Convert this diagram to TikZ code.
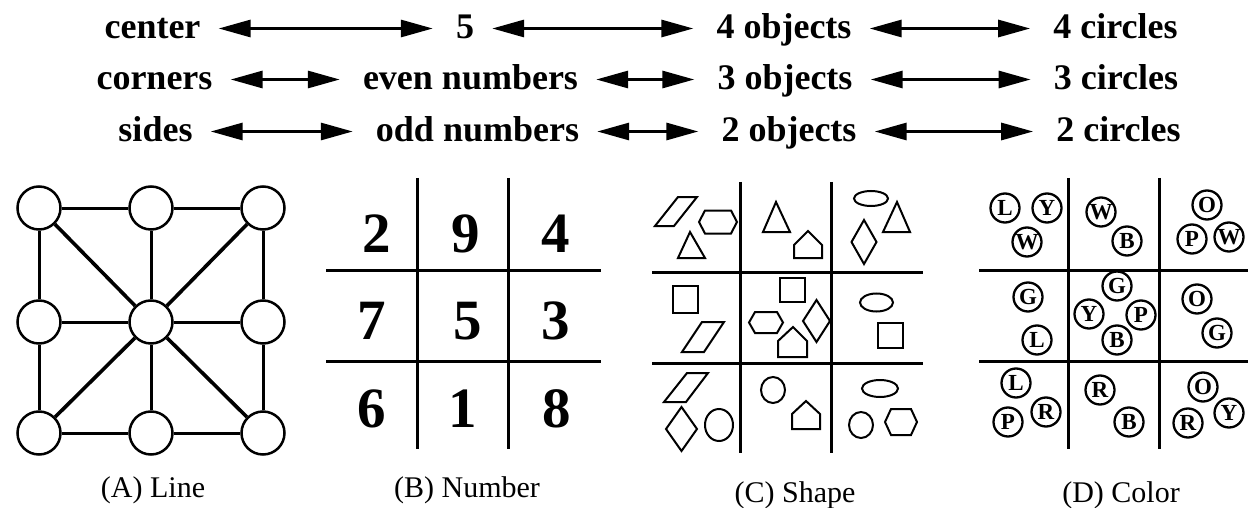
\documentclass[tikz,border=0pt]{standalone}
\usepackage{fontspec}
\setmainfont{Liberation Serif}
\usetikzlibrary{arrows.meta}

\tikzset{
  toplabel/.style={font=\bfseries\fontsize{36}{40}\selectfont,
    inner sep=0pt, text height=21pt, text depth=0pt, anchor=base},
  biarrow/.style={{Triangle[length=32pt,width=17pt]}-{Triangle[length=32pt,width=17pt]},
    line width=3pt, shorten <=18pt, shorten >=23pt},
  caption/.style={font=\fontsize{30}{34}\selectfont, inner sep=0pt, anchor=base},
  dot/.style={circle, draw, line width=2.5pt, minimum size=43pt, inner sep=0pt, fill=white},
  gridline/.style={line width=3pt},
  digit/.style={font=\bfseries\fontsize{57}{57}\selectfont, inner sep=0pt},
  shp/.style={line width=2pt, line join=miter},
  colc/.style={circle, draw, line width=2.3pt, minimum size=29pt, inner sep=0pt,
    font=\bfseries\fontsize{23}{23}\selectfont}
}

\begin{document}
\begin{tikzpicture}[x=1pt, y=-1pt]
  \useasboundingbox (0,0) rectangle (1248,508);

  % correspondences
  \node[toplabel] (center) at (152.5,39) {center};
  \node[toplabel] (five)   at (465,39)   {5};
  \node[toplabel] (obj4)   at (784,39)   {4 objects};
  \node[toplabel] (circ4)  at (1115.5,39) {4 circles};
  \node[toplabel] (corners) at (154.5,90) {corners};
  \node[toplabel] (even)    at (470.5,90) {even numbers};
  \node[toplabel] (obj3)    at (785,90)   {3 objects};
  \node[toplabel] (circ3)   at (1116,90)  {3 circles};
  \node[toplabel] (sides) at (155.5,142) {sides};
  \node[toplabel] (odd)   at (477.5,142) {odd numbers};
  \node[toplabel] (obj2)  at (789,142)   {2 objects};
  \node[toplabel] (circ2) at (1118.5,142) {2 circles};
  \foreach \a/\b in {center/five, five/obj4, obj4/circ4,
                     corners/even, even/obj3, obj3/circ3,
                     sides/odd, odd/obj2, obj2/circ2}
    \draw[biarrow] (\a.east) -- (\b.west);

  % (A) line
  \foreach \i/\y in {1/208, 2/322, 3/433}
    \foreach \j/\x in {1/39, 2/151, 3/263}
      \node[dot] (a\i\j) at (\x,\y) {};
  \foreach \i in {1,2,3} {
    \draw[line width=3pt] (a\i1) -- (a\i2);
    \draw[line width=3pt] (a\i2) -- (a\i3);
    \draw[line width=3pt] (a1\i) -- (a2\i);
    \draw[line width=3pt] (a2\i) -- (a3\i);
  }
  \foreach \c in {a11, a13, a31, a33}
    \draw[line width=3.6pt] (\c) -- (a22);
  \node[caption] (capA) at (153,497) {(A) Line};

  % (B) number
  \draw[gridline] (417,178) -- (417,449);
  \draw[gridline] (508,178) -- (508,449);
  \draw[gridline] (326,270) -- (601,270);
  \draw[gridline] (326,361) -- (601,361);
  \node[digit] (n2) at (377,234) {2};
  \node[digit] (n9) at (466,234) {9};
  \node[digit] (n4) at (556,234) {4};
  \node[digit] (n7) at (372,321) {7};
  \node[digit] (n5) at (468,321) {5};
  \node[digit] (n3) at (556,321) {3};
  \node[digit] (n6) at (372,409) {6};
  \node[digit] (n1) at (463,409) {1};
  \node[digit] (n8) at (557,409) {8};
  \node[caption] (capB) at (467,497) {(B) Number};

  % (C) shape
  \draw[gridline] (740,182) -- (740,453);
  \draw[gridline] (831,182) -- (831,453);
  \draw[gridline] (652,272) -- (923,272);
  \draw[gridline] (652,363) -- (923,363);
  % top row
  \draw[shp] (655,226) -- (678,197) -- (697,197) -- (674,226) -- cycle;
  \draw[shp] (699,222) -- ++(6,-11.5) -- ++(26,0) -- ++(6,11.5) -- ++(-6,11.5) -- ++(-26,0) -- cycle;
  \draw[shp] (678,258) -- (690,232) -- (705,258) -- cycle;
  \draw[shp] (763,232) -- (776,202) -- (790,232) -- cycle;
  \draw[shp] (794,258) -- (794,245) -- (808,231) -- (822,245) -- (822,258) -- cycle;
  \draw[shp] (871,198.5) ellipse [x radius=17, y radius=7.5];
  \draw[shp] (883,232) -- (897,202) -- (910,232) -- cycle;
  \draw[shp] (864,220) -- (876.5,242) -- (864,264) -- (851.5,242) -- cycle;
  % middle row
  \draw[shp] (673,286) rectangle (698,313);
  \draw[shp] (682,352) -- (702,322) -- (724,322) -- (704,352) -- cycle;
  \draw[shp] (780,278) rectangle (805,302);
  \draw[shp] (749,322.5) -- ++(6,-10.5) -- ++(22,0) -- ++(6,10.5) -- ++(-6,10.5) -- ++(-22,0) -- cycle;
  \draw[shp] (778,357) -- (778,341) -- (793,327) -- (807,341) -- (807,357) -- cycle;
  \draw[shp] (816.5,300) -- (830,321) -- (816.5,342) -- (803,321) -- cycle;
  \draw[shp] (876.5,302.5) ellipse [x radius=16.5, y radius=9];
  \draw[shp] (878,323) rectangle (903,348);
  % bottom row
  \draw[shp] (664,402) -- (687,373) -- (708,373) -- (686,402) -- cycle;
  \draw[shp] (681.5,407) -- (697,429) -- (681.5,451) -- (666,429) -- cycle;
  \draw[shp] (719,425) ellipse [x radius=14, y radius=16];
  \draw[shp] (773,390) ellipse [x radius=12, y radius=13];
  \draw[shp] (792,429) -- (792,414) -- (806,401) -- (820,414) -- (820,429) -- cycle;
  \draw[shp] (880,388.5) ellipse [x radius=18, y radius=8.5];
  \draw[shp] (861,425) ellipse [x radius=12, y radius=13];
  \draw[shp] (885,422) -- ++(6,-13) -- ++(20,0) -- ++(6,13) -- ++(-6,13) -- ++(-20,0) -- cycle;
  \node[caption] (capC) at (795,502) {(C) Shape};

  % (D) color
  \draw[gridline] (1068,178) -- (1068,449);
  \draw[gridline] (1159,178) -- (1159,449);
  \draw[gridline] (979,270) -- (1248,270);
  \draw[gridline] (979,361) -- (1248,361);
  \foreach \n/\x/\y/\t in {
      d1/1005/208/L, d2/1047/208/Y, d3/1027/242/W,
      d4/1101/212/W, d5/1127/241/B,
      d6/1207/205/O, d7/1192/239/P, d8/1229/237/W,
      d9/1028/297/G, d10/1037/340/L,
      d11/1117/286/G, d12/1089/314/Y, d13/1141/315/P, d14/1117/340/B,
      d15/1197/299/O, d16/1217/333/G,
      d17/1016/383/L, d18/1008/422/P, d19/1046/412/R,
      d20/1100/390/R, d21/1129/422/B,
      d22/1203/387/O, d23/1188/423/R, d24/1229/413/Y}
    \node[colc] (\n) at (\x,\y) {\t};
  \node[caption] (capD) at (1121,502) {(D) Color};
\end{tikzpicture}
\end{document}
